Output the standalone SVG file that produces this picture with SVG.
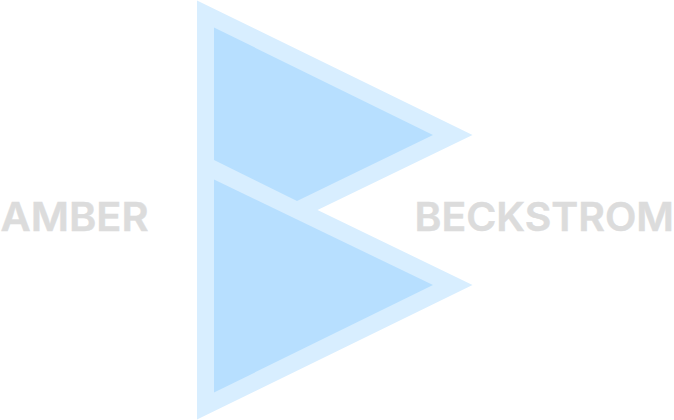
<svg xmlns="http://www.w3.org/2000/svg" width="674" height="420" viewBox="0 0 674 420">
<style>
.t{font-family:"Inter","Liberation Sans",sans-serif;font-weight:600;font-size:40px;fill:#dcdcdc;stroke:#dcdcdc;stroke-width:.5px}
</style>
<rect width="674" height="420" fill="#fff"/>
<g id="logo-outer"><path d="M197 .5L472.500 135L317.500 210L472.500 285L197 419.500Z" fill="#d8eeff"/></g>
<g id="logo-upper"><path d="M214 27.500L433 135L297 201L214 160Z" fill="#b7dfff"/></g>
<g id="logo-lower"><path d="M214 179.500L433 285L214 392.500Z" fill="#b7dfff"/></g>
<g id="amber"><text class="t" x="0.500" y="231" textLength="148" lengthAdjust="spacingAndGlyphs">AMBER</text></g>
<g id="beckstrom"><text class="t" x="414.500" y="231" textLength="259.500" lengthAdjust="spacingAndGlyphs">BECKSTROM</text></g>
</svg>
